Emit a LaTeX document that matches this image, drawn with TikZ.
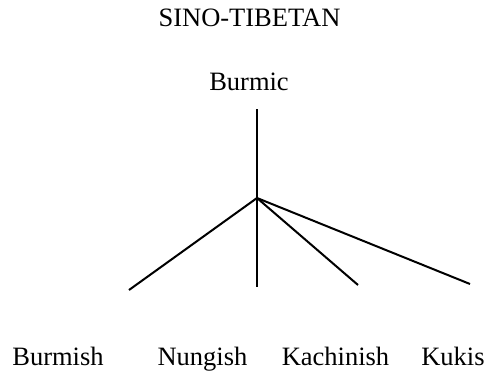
\documentclass[tikz,border=0pt]{standalone}
\usepackage{fontspec}
\setmainfont{Liberation Serif}
\begin{document}
\begin{tikzpicture}[x=1pt,y=-1pt,
  lbl/.style={anchor=base,inner sep=0pt,font=\fontsize{26.5}{30}\selectfont},
  branch/.style={line width=2pt}]
\useasboundingbox (0,0) rectangle (485,372);
\node[lbl] (st) at (249.5,27) {SINO-TIBETAN};
\node[lbl] (burmic) at (249,90) {Burmic};
\node[lbl] (burmish) at (58,365) {Burmish};
\node[lbl] (nungish) at (202.5,365) {Nungish};
\node[lbl] (kachinish) at (335.5,365) {Kachinish};
\node[lbl] (kukis) at (453,365) {Kukis};
\coordinate (top) at (257,109);
\coordinate (hub) at (257,198);
\coordinate (e1) at (129,290);
\coordinate (e2) at (257,287);
\coordinate (e3) at (358,285);
\coordinate (e4) at (470,284);
\draw[branch] (top) -- (hub);
\draw[branch] (hub) -- (e1);
\draw[branch] (hub) -- (e2);
\draw[branch] (hub) -- (e3);
\draw[branch] (hub) -- (e4);
\end{tikzpicture}
\end{document}
